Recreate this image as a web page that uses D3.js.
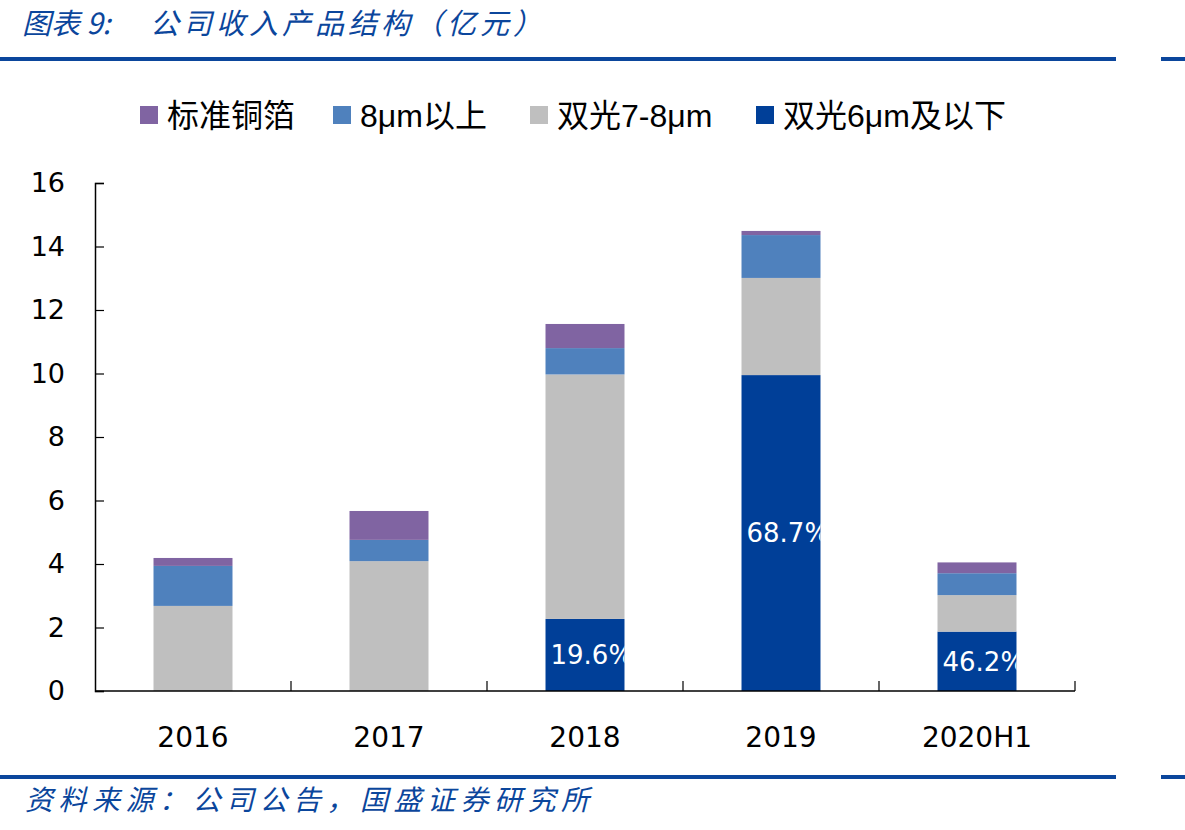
<!DOCTYPE html>
<html>
<head>
<meta charset="utf-8">
<script src="https://cdn.jsdelivr.net/npm/d3@7"></script>
<style>
  body { margin: 0; background: #fff; }
  svg text { font-family: "DejaVu Sans", Verdana, sans-serif; }
  .cjk { font-family: "Noto Sans CJK SC", "DejaVu Sans", sans-serif; }
  .leg { font-family: "Liberation Sans", Arial, "Noto Sans CJK SC", sans-serif; }
</style>
</head>
<body>
<div id="main"></div>
<script>
// data
var years = ["2016", "2017", "2018", "2019", "2020H1"];
var seriesNames = ["双光6μm及以下", "双光7-8μm", "8μm以上", "标准铜箔"];
var legendOrder = ["标准铜箔", "8μm以上", "双光7-8μm", "双光6μm及以下"];
var dual6 = [0, 0, 2.27, 9.95, 1.87];
var dual78 = [2.68, 4.09, 7.70, 3.06, 1.15];
var above8 = [1.26, 0.67, 0.83, 1.35, 0.69];
var standard = [0.25, 0.91, 0.76, 0.13, 0.34];
var shareLabels = ["", "", "19.6%", "68.7%", "46.2%"];
var yTicks = [0, 2, 4, 6, 8, 10, 12, 14, 16];

var colors = {
  "双光6μm及以下": "#003f98",
  "双光7-8μm": "#bfbfbf",
  "8μm以上": "#4f81bd",
  "标准铜箔": "#8064a2"
};
var lineBlue = "#0b469c";

var W = 1185, H = 830;
var margin = {left: 95, right: 110, top: 183, bottom: 139};
var width = W - margin.left - margin.right,
    height = H - margin.top - margin.bottom;

var table = years.map(function(y, i) {
  return {year: y, "双光6μm及以下": dual6[i], "双光7-8μm": dual78[i],
          "8μm以上": above8[i], "标准铜箔": standard[i], label: shareLabels[i]};
});

var svg = d3.select("#main").append("svg")
    .attr("width", W).attr("height", H);

// header / footer rules
svg.append("rect").attr("x", 0).attr("y", 57).attr("width", 1116).attr("height", 4).attr("fill", lineBlue);
svg.append("rect").attr("x", 1161).attr("y", 57).attr("width", 24).attr("height", 4).attr("fill", lineBlue);
svg.append("rect").attr("x", 0).attr("y", 775).attr("width", 1116).attr("height", 4).attr("fill", lineBlue);
svg.append("rect").attr("x", 1161).attr("y", 775).attr("width", 24).attr("height", 4).attr("fill", lineBlue);

var title = svg.append("text").attr("class", "cjk")
    .attr("x", 22).attr("y", 34)
    .attr("font-size", 29).attr("font-style", "italic")
    .attr("fill", lineBlue);
title.append("tspan").text("图表 9:");
title.append("tspan").attr("x", 150).attr("letter-spacing", 4).text("公司收入产品结构（亿元）");

svg.append("text").attr("class", "cjk")
    .attr("x", 25).attr("y", 810)
    .attr("font-size", 28).attr("font-style", "italic")
    .attr("letter-spacing", 5.5)
    .attr("fill", lineBlue)
    .text("资料来源：公司公告，国盛证券研究所");

var g = svg.append("g").attr("transform", "translate(" + margin.left + "," + margin.top + ")");

var x = d3.scaleBand().domain(years).range([0, width]).paddingInner(0.597).paddingOuter(0.2985);
var y = d3.scaleLinear().domain([0, 16]).range([height, 0]);

var stack = d3.stack().keys(seriesNames);
var layers = stack(table);

var defs = svg.append("defs");
table.forEach(function(d, i) {
  defs.append("clipPath").attr("id", "clip" + i)
    .append("rect")
    .attr("x", x(d.year)).attr("y", y(d["双光6μm及以下"]))
    .attr("width", x.bandwidth()).attr("height", height - y(d["双光6μm及以下"]));
});

g.selectAll(".layer")
  .data(layers)
  .enter().append("g")
    .attr("class", "layer")
    .attr("fill", function(d) { return colors[d.key]; })
  .selectAll("rect")
  .data(function(d) { return d; })
  .enter().append("rect")
    .attr("x", function(d) { return x(d.data.year); })
    .attr("y", function(d) { return y(d[1]); })
    .attr("width", x.bandwidth())
    .attr("height", function(d) { return y(d[0]) - y(d[1]); });

// percentage labels inside dark segments
g.selectAll(".pct")
  .data(table.filter(function(d) { return d.label; }))
  .enter().append("text")
    .attr("class", "pct")
    .attr("clip-path", function(d) { return "url(#clip" + years.indexOf(d.year) + ")"; })
    .attr("x", function(d) { return x(d.year) + 5; })
    .attr("y", function(d) { return (y(d["双光6μm及以下"]) + height) / 2; })
    .attr("dy", "0.36em")
    .attr("font-size", 26)
    .attr("fill", "#fff")
    .text(function(d) { return d.label; });

// axes
var yAxis = d3.axisLeft(y).tickValues(yTicks).tickSize(-9).tickPadding(30);
var gy = g.append("g").call(yAxis);
gy.select(".domain").attr("stroke", "#000").attr("stroke-width", 1.5);
gy.selectAll(".tick line").attr("stroke", "#000").attr("stroke-width", 1.2);
gy.selectAll(".tick text").attr("font-size", 27).attr("fill", "#000")
  .style("font-family", "'DejaVu Sans', Verdana, sans-serif");

var gx = g.append("g").attr("transform", "translate(0," + height + ")");
gx.append("line").attr("x1", 0).attr("x2", width).attr("y1", 0).attr("y2", 0)
  .attr("stroke", "#000").attr("stroke-width", 1.5);
gx.selectAll(".xt")
  .data(years)
  .enter().append("line")
    .attr("x1", function(d) { return x(d) + x.bandwidth() / 2 + x.step() / 2; })
    .attr("x2", function(d) { return x(d) + x.bandwidth() / 2 + x.step() / 2; })
    .attr("y1", 0).attr("y2", -10)
    .attr("stroke", "#000").attr("stroke-width", 1.2);
gx.selectAll(".xl")
  .data(years)
  .enter().append("text")
    .attr("x", function(d) { return x(d) + x.bandwidth() / 2; })
    .attr("y", 46)
    .attr("dy", "0.36em")
    .attr("text-anchor", "middle")
    .attr("font-size", 28)
    .text(function(d) { return d; });

// legend
var legendX = [140, 333, 530, 756];
var lg = svg.append("g").selectAll("g")
  .data(legendOrder)
  .enter().append("g")
    .attr("transform", function(d, i) { return "translate(" + legendX[i] + ",106)"; });
lg.append("rect").attr("width", 18).attr("height", 18)
  .attr("fill", function(d) { return colors[d]; });
lg.append("text").attr("class", "leg")
  .attr("x", 27).attr("y", 9).attr("dy", "0.36em")
  .attr("font-size", 32)
  .text(function(d) { return d; });
</script>
</body>
</html>
